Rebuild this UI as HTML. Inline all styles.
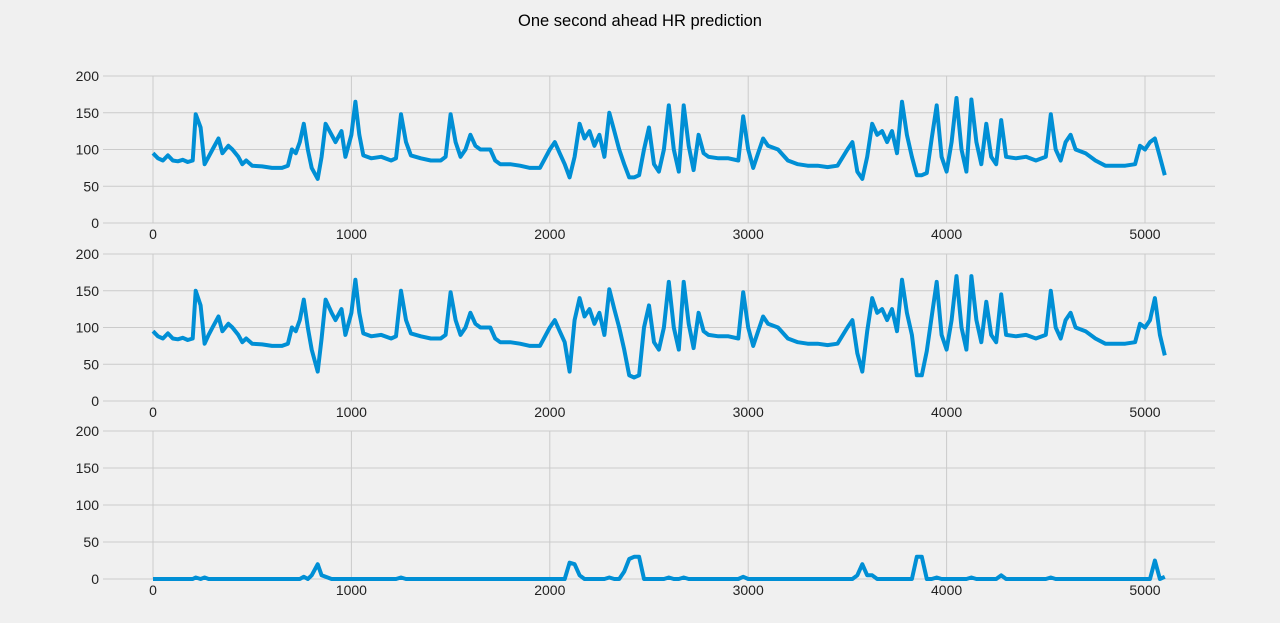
<!DOCTYPE html>
<html><head><meta charset="utf-8"><style>
body{margin:0;background:#f0f0f0;}
svg{display:block;font-family:"Liberation Sans","DejaVu Sans",sans-serif;}
</style></head><body>
<svg id="c" width="1280" height="623">
<rect width="1280" height="623" fill="#f0f0f0"/>
<text x="640" y="26" text-anchor="middle" font-size="16.5" fill="#000">One second ahead HR prediction</text>
</svg>
<script>
const times=[0,25,50,75,100,125,150,175,200,215,240,260,280,300,330,350,380,400,430,450,470,500,550,600,650,680,700,720,740,760,780,800,830,850,870,900,920,950,970,1000,1020,1040,1060,1100,1150,1200,1225,1250,1275,1300,1350,1400,1450,1475,1500,1525,1550,1575,1600,1625,1650,1700,1725,1750,1800,1850,1900,1950,2000,2025,2050,2075,2100,2125,2150,2175,2200,2225,2250,2275,2300,2325,2350,2375,2400,2425,2450,2475,2500,2525,2550,2575,2600,2625,2650,2675,2700,2725,2750,2775,2800,2850,2900,2950,2975,3000,3025,3050,3075,3100,3150,3200,3250,3300,3350,3400,3450,3500,3525,3550,3575,3600,3625,3650,3675,3700,3725,3750,3775,3800,3825,3850,3875,3900,3925,3950,3975,4000,4025,4050,4075,4100,4125,4150,4175,4200,4225,4250,4275,4300,4350,4400,4450,4500,4525,4550,4575,4600,4625,4650,4700,4750,4800,4850,4900,4950,4975,5000,5025,5050,5075,5100];
const actual=[95,88,85,92,85,84,86,83,85,148,130,80,90,100,115,95,105,100,90,80,85,78,77,75,75,78,100,95,110,135,100,75,60,90,135,120,110,125,90,120,165,120,92,88,90,85,88,148,110,92,88,85,85,90,148,110,90,100,120,105,100,100,85,80,80,78,75,75,100,110,95,80,62,90,135,115,125,105,120,90,150,125,100,80,62,62,65,100,130,80,70,100,160,100,70,160,105,72,120,95,90,88,88,85,145,100,75,95,115,105,100,85,80,78,78,76,78,100,110,70,60,90,135,120,125,110,125,95,165,120,90,65,65,68,115,160,90,70,110,170,100,70,168,110,80,135,90,80,140,90,88,90,85,90,148,100,85,110,120,100,95,85,78,78,78,80,105,100,110,115,90,65];
const predicted=[95,88,85,92,85,84,86,83,85,150,130,78,90,100,115,95,105,100,90,80,85,78,77,75,75,78,100,95,110,138,100,70,40,85,138,120,110,125,90,120,165,120,92,88,90,85,88,150,110,92,88,85,85,90,148,110,90,100,120,105,100,100,85,80,80,78,75,75,100,110,95,80,40,110,140,115,125,105,120,90,152,125,100,70,35,32,35,100,130,80,70,100,162,100,70,162,105,72,120,95,90,88,88,85,148,100,75,95,115,105,100,85,80,78,78,76,78,100,110,65,40,95,140,120,125,110,125,95,165,120,90,35,35,68,115,162,90,70,110,170,100,70,170,110,80,135,90,80,145,90,88,90,85,90,150,100,85,110,120,100,95,85,78,78,78,80,105,100,110,140,90,62];
const yTicks=[0,50,100,150,200];
const xTicks=[0,1000,2000,3000,4000,5000];
const NS="http://www.w3.org/2000/svg";
const svg=document.getElementById('c');
const panels=[{top:76,bot:223,name:'actual'},{top:254,bot:401,name:'predicted'},{top:431,bot:579,name:'error'}];
const errors=actual.map((a,i)=>Math.abs(a-predicted[i]));
const series=[actual,predicted,errors];
const xs=v=>153+v*0.1984;
function mk(tag,attrs){const e=document.createElementNS(NS,tag);for(const k in attrs)e.setAttribute(k,attrs[k]);svg.appendChild(e);return e;}
panels.forEach((p,pi)=>{
  const ys=v=>p.bot-(v/200)*(p.bot-p.top);
  yTicks.forEach(t=>{
    const g=mk('line',{x1:103,x2:1215,y1:ys(t),y2:ys(t),stroke:'#cbcbcb','stroke-width':1});
    
    
    const l=mk('text',{x:99,y:ys(t)+5,'text-anchor':'end','font-size':14,fill:'#222'});
    l.textContent=t;
    
    
  });
  xTicks.forEach(t=>{
    const g=mk('line',{x1:xs(t),x2:xs(t),y1:p.top,y2:p.bot,stroke:'#cbcbcb','stroke-width':1});
    
    
    const l=mk('text',{x:xs(t),y:p.bot+16,'text-anchor':'middle','font-size':14,fill:'#222'});
    l.textContent=t;
    
    
  });
  const d=series[pi].map((v,i)=>(i?'L':'M')+xs(times[i]).toFixed(1)+','+ys(v).toFixed(1)).join('');
  const path=mk('path',{d:d,fill:'none',stroke:'#008fd5','stroke-width':4,'stroke-linejoin':'round'});
  
  
});
</script>
</body></html>
